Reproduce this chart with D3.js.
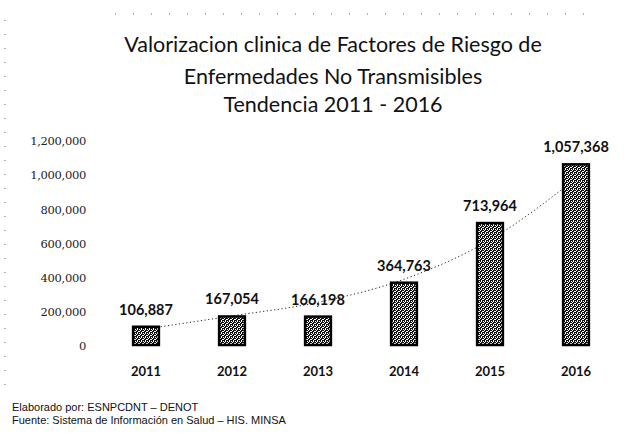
<!DOCTYPE html>
<html>
<head>
<meta charset="utf-8">
<script src="https://cdn.jsdelivr.net/npm/d3@7"></script>
<style>
  body { margin: 0; background: #fff; }
  svg { display: block; }
</style>
</head>
<body>
<svg id="chart" width="627" height="434"></svg>
<script>
// datos
const years = ["2011", "2012", "2013", "2014", "2015", "2016"];
const values = [106887, 167054, 166198, 364763, 713964, 1057368];
const valueLabels = ["106,887", "167,054", "166,198", "364,763", "713,964", "1,057,368"];
// linea de tendencia
const trend = [94000, 170000, 250000, 385000, 615000, 975000];
const yTicks = [0, 200000, 400000, 600000, 800000, 1000000, 1200000];
const yTickLabels = ["0", "200,000", "400,000", "600,000", "800,000", "1,000,000", "1,200,000"];
const titleLines = [
  "Valorizacion clinica de Factores de Riesgo de",
  "Enfermedades  No Transmisibles",
  "Tendencia 2011 - 2016"
];
const footLines = [
  "Elaborado por: ESNPCDNT \u2013 DENOT",
  "Fuente: Sistema de Información en Salud \u2013 HIS. MINSA"
];

const svg = d3.select("#chart");

// patron de las barras (escaneado, negro con trazos blancos)
const defs = svg.append("defs");
const pat = defs.append("pattern")
  .attr("id", "stip")
  .attr("width", 4).attr("height", 4)
  .attr("patternUnits", "userSpaceOnUse");
pat.append("rect").attr("width", 4).attr("height", 4).attr("fill", "#111");
pat.append("path")
  .attr("d", "M1,0h1v2h-1z M3,1h1v1h-1z M2,3h2v1h-2z M0,2h1v1h-1z")
  .attr("fill", "#fff");

// puntos del borde del escaneo
svg.append("line")
  .attr("x1", 115).attr("x2", 600).attr("y1", 14).attr("y2", 14)
  .attr("stroke", "#666").attr("stroke-width", 1)
  .attr("stroke-dasharray", "1,17");
svg.append("line")
  .attr("x1", 5).attr("x2", 5).attr("y1", 20).attr("y2", 390)
  .attr("stroke", "#666").attr("stroke-width", 1)
  .attr("stroke-dasharray", "1,13");

// titulo
svg.append("g")
  .selectAll("text")
  .data(titleLines)
  .enter()
  .append("text")
  .attr("x", 333)
  .attr("y", (d, i) => [52, 84, 112][i])
  .attr("text-anchor", "middle")
  .attr("font-family", "Lato, 'Open Sans', sans-serif")
  .attr("font-size", 21.5)
  .attr("fill", "#111")
  .text(d => d);

// escalas
const x = d3.scaleBand()
  .domain(years)
  .range([103, 619])
  .paddingInner(0.7)
  .paddingOuter(0.35);

const y = d3.scaleLinear()
  .domain([0, 1200000])
  .range([345, 140]);

// eje y (solo etiquetas)
const yAxis = d3.axisLeft(y)
  .tickValues(yTicks)
  .tickFormat((d, i) => yTickLabels[i])
  .tickSize(0)
  .tickPadding(0);

svg.append("g")
  .attr("transform", "translate(86,1)")
  .call(yAxis)
  .call(g => g.select(".domain").remove())
  .call(g => g.selectAll("text")
    .attr("font-family", "'DejaVu Serif', serif")
    .attr("font-size", 11.5)
    .attr("letter-spacing", "-0.3px")
    .attr("fill", "#222"));

// linea de tendencia punteada (detras de las barras)
const line = d3.line()
  .x((d, i) => x(years[i]) + x.bandwidth() / 2)
  .y(d => y(d))
  .curve(d3.curveMonotoneX);

svg.append("path")
  .datum(trend)
  .attr("d", line)
  .attr("fill", "none")
  .attr("stroke", "#222")
  .attr("stroke-width", 1)
  .attr("stroke-dasharray", "1.2,2.5");

// barras
svg.append("g")
  .selectAll("rect")
  .data(values)
  .enter()
  .append("rect")
  .attr("x", (d, i) => x(years[i]))
  .attr("y", d => y(d))
  .attr("width", x.bandwidth())
  .attr("height", d => y(0) - y(d))
  .attr("fill", "url(#stip)")
  .attr("stroke", "#000")
  .attr("stroke-width", 2.5);

// etiquetas de valor
svg.append("g")
  .selectAll("text")
  .data(values)
  .enter()
  .append("text")
  .attr("x", (d, i) => x(years[i]) + x.bandwidth() / 2)
  .attr("y", d => y(d) - 12)
  .attr("text-anchor", "middle")
  .attr("font-family", "Lato, sans-serif")
  .attr("font-weight", "bold")
  .attr("font-size", 14.5)
  .attr("fill", "#111")
  .text((d, i) => valueLabels[i]);

// eje x (anios)
const xAxis = d3.axisBottom(x).tickSize(0).tickPadding(0);
svg.append("g")
  .attr("transform", "translate(0,371)")
  .call(xAxis)
  .call(g => g.select(".domain").remove())
  .call(g => g.selectAll("text")
    .attr("dy", "0.35em")
    .attr("font-family", "Lato, sans-serif")
    .attr("font-weight", "bold")
    .attr("font-size", 13)
    .attr("fill", "#111"));

// pie
svg.append("g")
  .selectAll("text")
  .data(footLines)
  .enter()
  .append("text")
  .attr("x", 12)
  .attr("y", (d, i) => 411 + i * 13)
  .attr("font-family", "'Liberation Sans Narrow', 'Liberation Sans', Arial, sans-serif")
  .attr("font-size", 11)
  .attr("fill", "#111")
  .text(d => d);
</script>
</body>
</html>
